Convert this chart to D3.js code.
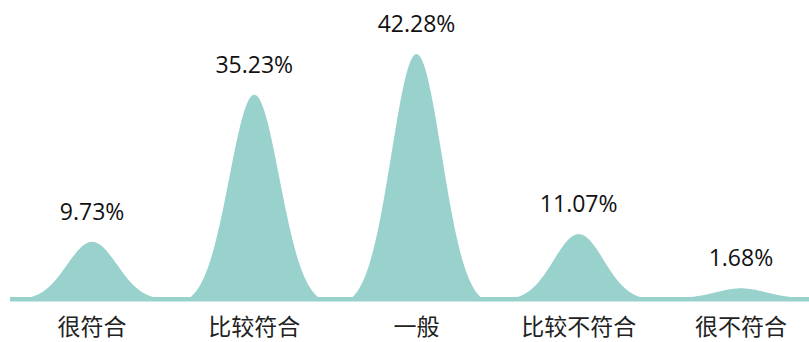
<!DOCTYPE html>
<html>
<head>
<meta charset="utf-8">
<script src="https://cdn.jsdelivr.net/npm/d3@7"></script>
<style>
  body { margin: 0; background: #fff; }
  svg { display: block; }
  .val { font-family: "Open Sans", sans-serif; font-size: 23px; fill: #111; }
  .cat { font-family: "Noto Sans CJK SC", sans-serif; font-size: 23px; fill: #222; }
</style>
</head>
<body>
<svg width="809" height="342"></svg>
<script>
// data
var categories = ['很符合', '比较符合', '一般', '比较不符合', '很不符合'];
var values = [9.73, 35.23, 42.28, 11.07, 1.68];

var svg = d3.select('svg');
var width = +svg.attr('width');
var height = +svg.attr('height');

var baseY = 298;
var color = '#99d1cc';

// scales
var xScale = d3.scaleBand().domain(categories).range([11, 822]).padding(0);
var yScale = d3.scaleLinear().domain([0, 50]).range([baseY, 9.5]);

var halfW = xScale.bandwidth() * 0.4;
var sigma = 25;
var e0 = Math.exp(-halfW * halfW / (2 * sigma * sigma));

// bell profile, 0 at the feet, 1 at the peak
function bell(d) {
    return (Math.exp(-d * d / (2 * sigma * sigma)) - e0) / (1 - e0);
}

var steps = d3.range(-60, 61).map(function (i) { return i / 60 * halfW; });

var area = d3.area()
    .x(function (p) { return p.x; })
    .y0(baseY + 1)
    .y1(function (p) { return p.y; });

// baseline strip
svg.append('rect')
    .attr('x', 10)
    .attr('y', 297)
    .attr('width', width - 10)
    .attr('height', 4.5)
    .attr('fill', color);

var rows = categories.map(function (c, i) { return { cat: c, value: values[i] }; });

var g = svg.selectAll('.peak')
    .data(rows)
    .enter()
    .append('g')
    .attr('class', 'peak');

g.append('path')
    .attr('fill', color)
    .attr('d', function (d) {
        var cx = xScale(d.cat) + xScale.bandwidth() / 2;
        var h = baseY - yScale(d.value);
        return area(steps.map(function (s) {
            return { x: cx + s, y: baseY - h * bell(s) };
        }));
    });

g.append('text')
    .attr('class', 'val')
    .attr('text-anchor', 'middle')
    .attr('x', function (d) { return xScale(d.cat) + xScale.bandwidth() / 2; })
    .attr('y', function (d) { return yScale(d.value) - 22; })
    .text(function (d) { return d.value.toFixed(2) + '%'; });

g.append('text')
    .attr('class', 'cat')
    .attr('text-anchor', 'middle')
    .attr('x', function (d) { return xScale(d.cat) + xScale.bandwidth() / 2; })
    .attr('y', 335)
    .text(function (d) { return d.cat; });
</script>
</body>
</html>
